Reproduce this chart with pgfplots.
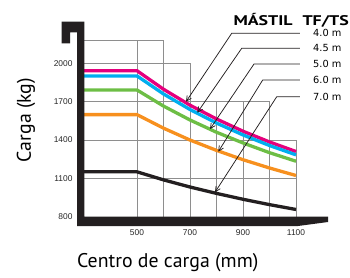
\documentclass[border=0pt]{standalone}
\usepackage{fontspec}
\setmainfont{PT Sans}
\newfontfamily\arialfont{Liberation Sans}
\newfontfamily\verdfont{DejaVu Sans}
\usepackage{pgfplots}
\pgfplotsset{compat=1.18}
\usetikzlibrary{arrows.meta}
\definecolor{cmag}{HTML}{E5007D}
\definecolor{ccyan}{HTML}{00AEEF}
\definecolor{cgreen}{HTML}{6DBE45}
\definecolor{corange}{HTML}{F7901E}
\definecolor{cblack}{HTML}{231F20}
\definecolor{cgrid}{HTML}{8E8E8E}
\begin{document}
\begin{tikzpicture}
\begin{axis}[
  scale only axis, width=212pt, height=153.2pt,
  xmin=300, xmax=1100, ymin=800, ymax=2000,
  clip=false, axis line style={draw=none}, major tick length=0pt,
  xtick={500,700,900,1100}, xticklabels={500,700,900,1100},
  ytick={800,1100,1400,1700,2000}, yticklabels={800,1100,1400,1700,2000},
  tick label style={font=\arialfont\fontsize{8.4}{10}\selectfont, inner sep=0pt, text=black!85},
  xticklabel style={anchor=north, yshift=-13pt},
  yticklabel style={anchor=east, xshift=-11.3pt},
]
% grid (stepped)
\draw[cgrid, line width=0.8pt]
  (axis cs:300,2177) -- (axis cs:600,2177)
  (axis cs:300,2000) -- (axis cs:700,2000)
  (axis cs:300,1700) -- (axis cs:1000,1700)
  (axis cs:300,1400) -- (axis cs:1100,1400)
  (axis cs:300,1100) -- (axis cs:1100,1100)
  (axis cs:500,800) -- (axis cs:500,2177)
  (axis cs:600,800) -- (axis cs:600,2177)
  (axis cs:700,800) -- (axis cs:700,2000)
  (axis cs:800,800) -- (axis cs:800,1700)
  (axis cs:900,800) -- (axis cs:900,1700)
  (axis cs:1000,800) -- (axis cs:1000,1700)
  (axis cs:1100,800) -- (axis cs:1100,1400);
% curves
\addplot[cmag, line width=3.3pt, no marks] coordinates {(300,1942) (500,1942) (600,1797) (700,1672) (800,1564) (900,1468) (1000,1384) (1100,1309)};
\addplot[ccyan, line width=3.3pt, no marks] coordinates {(300,1901) (500,1901) (600,1760) (700,1638) (800,1532) (900,1439) (1000,1356) (1100,1283)};
\addplot[cgreen, line width=3.3pt, no marks] coordinates {(300,1791) (500,1791) (600,1665) (700,1556) (800,1460) (900,1376) (1000,1300) (1100,1233)};
\addplot[corange, line width=3.3pt, no marks] coordinates {(300,1598) (500,1598) (600,1492) (700,1399) (800,1318) (900,1245) (1000,1180) (1100,1121)};
\addplot[cblack, line width=3.3pt, no marks] coordinates {(300,1150) (500,1150) (600,1087) (700,1031) (800,981) (900,935) (1000,893) (1100,855)};
% mast and fork
\fill[cblack] (axis cs:215.8,2325.8) -- (axis cs:301,2325.8) -- (axis cs:301,800) -- (axis cs:1220.8,800)
  -- (axis cs:1220.8,756.9) -- (axis cs:1107.5,725.6) -- (axis cs:273.6,725.6) -- (axis cs:273.6,2242.8)
  -- (axis cs:247.2,2242.8) -- (axis cs:247.2,2156.6) -- (axis cs:215.8,2156.6) -- cycle;
% leaders
\begin{scope}[line width=0.75pt, cblack, -{Straight Barb[length=5pt,width=5pt]}]
\draw (axis cs:1115,2235) -- (axis cs:857.4,2235) -- (axis cs:684.9,1699);
\draw (axis cs:1115,2117.5) -- (axis cs:895.1,2117.5) -- (axis cs:727.5,1613);
\draw (axis cs:1115,1994.5) -- (axis cs:941.5,1994.5) -- (axis cs:775.5,1485);
\draw (axis cs:1115,1869) -- (axis cs:974.3,1869) -- (axis cs:806.8,1307.6);
\draw (axis cs:1115,1738) -- (axis cs:1027.2,1738) -- (axis cs:794.3,989.6);
\end{scope}
\node[anchor=west, inner sep=0pt, font=\verdfont\fontsize{9.8}{11}\selectfont] at (axis cs:1164,2235) {4.0 m};
\node[anchor=west, inner sep=0pt, font=\verdfont\fontsize{9.8}{11}\selectfont] at (axis cs:1164,2117.5) {4.5 m};
\node[anchor=west, inner sep=0pt, font=\verdfont\fontsize{9.8}{11}\selectfont] at (axis cs:1164,1994.5) {5.0 m};
\node[anchor=west, inner sep=0pt, font=\verdfont\fontsize{9.8}{11}\selectfont] at (axis cs:1164,1869) {6.0 m};
\node[anchor=west, inner sep=0pt, font=\verdfont\fontsize{9.8}{11}\selectfont] at (axis cs:1164,1738) {7.0 m};
\node[anchor=base east, inner sep=0pt, font=\bfseries\fontsize{14}{16}\selectfont] at (axis cs:1300,2300) {\scalebox{1.28}[1]{MÁSTIL\hspace{0.55em}TF/TS}};
\node[rotate=90, inner sep=0pt, font=\fontsize{19.8}{22}\selectfont] at (axis cs:81,1556) {Carga (kg)};
\node[inner sep=0pt, font=\fontsize{19.8}{22}\selectfont] at (axis cs:616,436) {Centro de carga (mm)};
\end{axis}
\pgfresetboundingbox
\useasboundingbox (-84pt,-60.5pt) rectangle (266pt,216.5pt);
\end{tikzpicture}
\end{document}
